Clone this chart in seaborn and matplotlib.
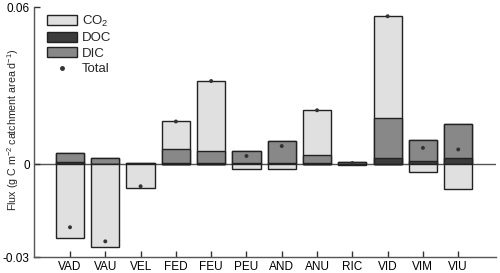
import matplotlib
matplotlib.use("Agg")
import matplotlib.pyplot as plt
import seaborn as sns
import numpy as np
import pandas as pd
from matplotlib.patches import Patch
from matplotlib.lines import Line2D

# 数据准备
sites = ['VAD', 'VAU', 'VEL', 'FED', 'FEU', 'PEU', 'AND', 'ANU', 'RIC', 'VID', 'VIM', 'VIU']
doc = [0.0008, 0.0002, 0.0000, 0.0005, 0.0005, 0.0004, 0.0006, 0.0003, 0.0000, 0.0022, 0.0013, 0.0023]
dic = [0.0033, 0.0020, 0.0005, 0.0051, 0.0046, 0.0047, 0.0083, 0.0031, 0.0009, 0.0154, 0.0078, 0.0130]
co2 = [-0.0283, -0.0318, -0.0090, 0.0107, 0.0267, -0.0020, -0.0020, 0.0172, -0.0005, 0.0390, -0.0029, -0.0097]
ytick_vals = [-0.0357, 0, 0.06]
ytick_labels = ['-0.03', '0', '0.06']

df = pd.DataFrame({'site': sites, 'DOC': doc, 'DIC': dic, 'CO2': co2})
df['co2_pos'] = df['CO2'].clip(lower=0)
df['co2_neg'] = df['CO2'].clip(upper=0)
df['top_doc'] = df['DOC']
df['top_dic'] = df['DOC'] + df['DIC']
df['top_co2'] = df['top_dic'] + df['co2_pos']
df['total'] = df['DOC'] + df['DIC'] + df['CO2']

c_co2 = '#e0e0e0'
c_doc = '#3c3c3c'
c_dic = '#888888'
edge = '#222222'

sns.set_style('ticks')
plt.rcParams['font.family'] = ['Liberation Sans', 'DejaVu Sans']
plt.rcParams['font.size'] = 8.5
plt.rcParams['mathtext.fontset'] = 'custom'
plt.rcParams['mathtext.rm'] = 'Liberation Sans'
plt.rcParams['mathtext.it'] = 'Liberation Sans:italic'
plt.rcParams['mathtext.bf'] = 'Liberation Sans:bold'

fig = plt.figure(figsize=(5, 2.73), dpi=100)
ax = fig.add_axes([0.068, 0.0575, 0.924, 0.9155])

ax.axhline(0, color='#555555', lw=1, zorder=0.5)

# 叠加柱：先画最高的一层，再逐层覆盖
for col, c in [('top_co2', c_co2), ('top_dic', c_dic), ('top_doc', c_doc), ('co2_neg', c_co2)]:
    sns.barplot(data=df, x='site', y=col, color=c, saturation=1, width=0.8,
                edgecolor=edge, linewidth=1, errorbar=None, ax=ax)

sns.scatterplot(data=df, x='site', y='total', color='#333333', s=8, marker='o',
                edgecolor='none', zorder=5, ax=ax)

ax.set_xlim(-1.02, 12.07)
ax.set_ylim(-0.0357, 0.06)
ax.set_yticks(ytick_vals)
ax.set_yticklabels(ytick_labels)
ax.set_xlabel('')
ax.set_ylabel('Flux (g C m$^{\\mathrm{-2}}$ catchment area d$^{\\mathrm{-1}}$)', fontsize=7.7)
ax.yaxis.set_label_coords(-0.029, 0.51)
ax.tick_params(direction='in', length=4, width=1, colors='#333333', labelcolor='black',
               labelsize=8.5, pad=3)
for s in ['top', 'right']:
    ax.spines[s].set_visible(False)
for s in ['left', 'bottom']:
    ax.spines[s].set_color('#555555')
    ax.spines[s].set_linewidth(1)

handles = [Patch(facecolor=c_co2, edgecolor=edge, label='CO$_{\\mathrm{2}}$'),
           Patch(facecolor=c_doc, edgecolor=edge, label='DOC'),
           Patch(facecolor=c_dic, edgecolor=edge, label='DIC'),
           Line2D([], [], marker='o', ls='none', color='#333333', markersize=2.5, label='Total')]
ax.legend(handles=handles, loc='upper left', bbox_to_anchor=(0.017, 0.995), frameon=False,
          handlelength=2.3, handleheight=0.78, labelspacing=0.22, handletextpad=0.35,
          borderaxespad=0, fontsize=9.5)

fig.savefig('out.png', dpi=100)
